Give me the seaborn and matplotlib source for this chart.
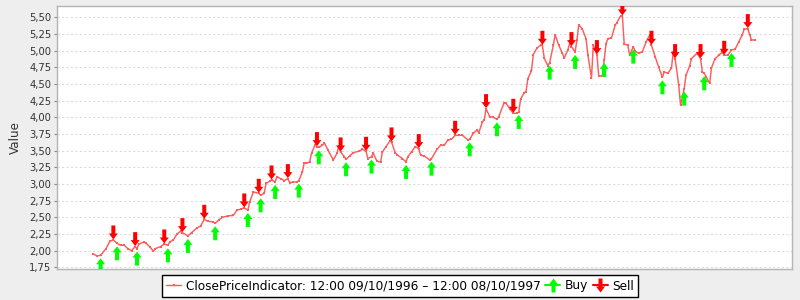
import numpy as np
import pandas as pd
import matplotlib
matplotlib.use("Agg")
import matplotlib.pyplot as plt
import seaborn as sns
from matplotlib.path import Path
from matplotlib.lines import Line2D
from matplotlib.ticker import FuncFormatter

# ---------------- data (calendar-day offset from 09/10/1996, close price) ----------------
days = [0, 2, 4, 7, 9, 11, 13, 15, 17, 19, 21, 23, 24, 25, 28, 29, 31, 33, 34, 37,
        39, 41, 42, 44, 46, 48, 49, 52, 54, 57, 59, 61, 63, 66, 67, 69, 71, 74, 77, 79,
        81, 83, 85, 86, 88, 91, 92, 94, 95, 97, 98, 100, 101, 103, 105, 107, 108, 110, 112, 113,
        115, 116, 117, 119, 120, 122, 123, 124, 126, 127, 129, 132, 134, 135, 136, 138, 139, 141, 143, 146,
        148, 150, 151, 153, 154, 156, 158, 159, 161, 163, 164, 166, 167, 170, 172, 173, 175, 177, 179, 180,
        182, 185, 186, 189, 191, 193, 195, 197, 199, 201, 203, 206, 207, 209, 211, 212, 214, 215, 216, 218,
        220, 222, 223, 226, 227, 229, 231, 233, 234, 235, 237, 238, 239, 241, 242, 244, 246, 247, 248, 250,
        251, 253, 254, 256, 258, 259, 261, 262, 263, 265, 266, 267, 269, 271, 272, 274, 275, 277, 278, 280,
        281, 282, 283, 285, 287, 288, 290, 291, 292, 294, 295, 297, 298, 300, 302, 304, 306, 307, 309, 311,
        313, 314, 316, 318, 319, 320, 322, 323, 325, 326, 328, 329, 332, 334, 335, 336, 337, 339, 340, 342,
        344, 346, 347, 349, 351, 353, 355, 357, 358, 360, 361, 362, 364]
prices = [1.95, 1.92, 1.93, 2.03, 2.14, 2.16, 2.11, 2.08, 2.08, 2.03, 2.00, 2.06, 2.03, 2.10, 2.13, 2.11, 2.06, 1.99, 2.03, 2.06,
          2.10, 2.08, 2.13, 2.16, 2.25, 2.29, 2.27, 2.22, 2.27, 2.34, 2.37, 2.47, 2.44, 2.43, 2.41, 2.46, 2.50, 2.52, 2.53, 2.61,
          2.62, 2.64, 2.61, 2.73, 2.88, 2.86, 2.83, 2.86, 3.01, 3.04, 3.06, 3.03, 3.11, 3.08, 3.05, 3.08, 3.02, 3.03, 3.03, 3.05,
          3.18, 3.32, 3.31, 3.33, 3.46, 3.59, 3.56, 3.55, 3.58, 3.62, 3.51, 3.36, 3.46, 3.57, 3.48, 3.41, 3.37, 3.42, 3.47, 3.49,
          3.52, 3.49, 3.38, 3.41, 3.46, 3.34, 3.33, 3.48, 3.56, 3.64, 3.63, 3.47, 3.44, 3.38, 3.33, 3.41, 3.48, 3.56, 3.53, 3.43,
          3.42, 3.36, 3.38, 3.52, 3.58, 3.58, 3.66, 3.67, 3.73, 3.73, 3.73, 3.66, 3.67, 3.76, 3.81, 3.77, 3.93, 3.96, 4.13, 4.01,
          4.00, 3.97, 4.01, 4.22, 4.21, 4.13, 4.06, 4.06, 4.08, 4.27, 4.37, 4.38, 4.58, 4.70, 4.94, 5.04, 5.08, 5.08, 4.89, 4.77,
          4.82, 5.08, 5.24, 5.08, 4.96, 4.89, 5.01, 5.11, 5.06, 4.98, 5.16, 5.39, 5.32, 5.18, 4.94, 4.59, 5.08, 4.94, 4.62, 4.62,
          4.86, 5.10, 5.18, 5.19, 5.38, 5.42, 5.52, 5.52, 5.10, 5.08, 4.93, 5.06, 4.99, 4.96, 4.98, 5.13, 5.23, 5.08, 4.91, 4.75,
          4.60, 4.68, 4.66, 4.74, 4.98, 4.88, 4.48, 4.18, 4.43, 4.63, 4.77, 4.88, 4.96, 4.88, 4.68, 4.66, 4.61, 4.51, 4.74, 4.88,
          4.93, 4.98, 4.93, 4.93, 5.01, 5.02, 5.13, 5.24, 5.32, 5.33, 5.24, 5.16, 5.16]
buy_days = [4, 13, 24, 41, 52, 67, 85, 92, 100, 113, 124, 139, 153, 172, 186, 207, 222, 234,
            251, 265, 281, 297, 313, 325, 336, 351]
sell_days = [11, 23, 39, 49, 61, 83, 91, 98, 107, 123, 136, 150, 164, 179, 199, 216, 231, 247,
             263, 277, 291, 307, 320, 334, 347, 360]
y_ticks = [1.75, 2.00, 2.25, 2.50, 2.75, 3.00, 3.25, 3.50, 3.75, 4.00, 4.25, 4.50, 4.75, 5.00, 5.25, 5.50]
series_label = "ClosePriceIndicator: 12:00 09/10/1996 \u2013 12:00 08/10/1997"
signal_labels = ["Buy", "Sell"]

# ---------------- style ----------------
sns.set_theme(style="white")
plt.rcParams["font.family"] = ["DejaVu Sans"]

LINE_C = "#ff5c5c"
BUY_C = "#00ff00"
SELL_C = "#ff0000"
PX2PT = 0.72  # 1 px at dpi 100

df = pd.DataFrame({"day": days, "price": prices})
buy_df = pd.DataFrame({"day": buy_days, "price": np.interp(buy_days, days, prices)})
sell_df = pd.DataFrame({"day": sell_days, "price": np.interp(sell_days, days, prices)})


def arrow_path(up=True, gap=0.0, length=14.0, head_h=6.0, head_w=4.5, shaft_w=2.0, centered=False):
    if centered:
        t = length / 2.0
        verts = [(0, t), (head_w, t - head_h), (shaft_w, t - head_h), (shaft_w, -t),
                 (-shaft_w, -t), (-shaft_w, t - head_h), (-head_w, t - head_h), (0, t)]
    else:
        t = -gap
        b = -gap - length
        verts = [(0, t), (head_w, t - head_h), (shaft_w, t - head_h), (shaft_w, b),
                 (-shaft_w, b), (-shaft_w, t - head_h), (-head_w, t - head_h), (0, t)]
    if not up:
        verts = [(x, -y) for x, y in verts]
    codes = [Path.MOVETO] + [Path.LINETO] * 6 + [Path.CLOSEPOLY]
    extent = max(max(abs(x), abs(y)) for x, y in verts)
    return Path(verts, codes), 2 * extent * PX2PT


fig = plt.figure(figsize=(8, 3), dpi=100, facecolor="#eeeeee")
ax = fig.add_axes([57 / 800, 31 / 300, 735 / 800, 263 / 300])
ax.set_facecolor("white")

sns.lineplot(data=df, x="day", y="price", ax=ax, color=LINE_C, lw=1.05,
             marker="s", markersize=2.0, markeredgewidth=0, estimator=None, sort=False,
             zorder=3)

buy_path, buy_ms = arrow_path(up=True, gap=3.0)
sell_path, sell_ms = arrow_path(up=False, gap=0.5)
sns.scatterplot(data=buy_df, x="day", y="price", ax=ax, marker=buy_path, s=buy_ms ** 2,
                color=BUY_C, edgecolor="none", linewidth=0, zorder=4)
sns.scatterplot(data=sell_df, x="day", y="price", ax=ax, marker=sell_path, s=sell_ms ** 2,
                color=SELL_C, edgecolor="none", linewidth=0, zorder=4)

ax.set_xlim(-20, 384.3)
ax.set_ylim(1.7245, 5.669)
ax.set_yticks(y_ticks)
ax.yaxis.set_major_formatter(FuncFormatter(lambda v, p: f"{v:.2f}".replace(".", ",")))
ax.tick_params(axis="y", left=True, length=2, width=0.8, color="#888888",
               labelsize=7.2, labelcolor="#333333", pad=2)
ax.tick_params(axis="x", bottom=False, labelbottom=False)
ax.set_xlabel("")
ax.set_ylabel("Value", fontsize=8.6, color="#333333", labelpad=5)
ax.yaxis.grid(True, color="#dcdcdc", linestyle=(0, (2, 2)), lw=0.8)
ax.xaxis.grid(False)
for sp in ax.spines.values():
    sp.set_color("#b4b4b4")
    sp.set_linewidth(1.0)

# legend
leg_buy_path, leg_buy_ms = arrow_path(up=True, centered=True)
leg_sell_path, leg_sell_ms = arrow_path(up=False, centered=True)
h_line = Line2D([0], [0], color=LINE_C, lw=1.05, marker="s", markersize=2.0, markeredgewidth=0)
h_buy = Line2D([0], [0], color=BUY_C, lw=1.5, marker=leg_buy_path, markersize=leg_buy_ms,
               markeredgewidth=0, markerfacecolor=BUY_C)
h_sell = Line2D([0], [0], color=SELL_C, lw=1.5, marker=leg_sell_path, markersize=leg_sell_ms,
                markeredgewidth=0, markerfacecolor=SELL_C)
leg = fig.legend(handles=[h_line, h_buy, h_sell], labels=[series_label] + signal_labels,
                 loc="center", bbox_to_anchor=(0.5, 1 - 286 / 300), ncol=3,
                 frameon=True, fancybox=False, edgecolor="black", facecolor="white",
                 framealpha=1, fontsize=8.7, handlelength=1.25, handletextpad=0.35,
                 columnspacing=0.4, borderpad=0.35, borderaxespad=0)
leg.get_frame().set_linewidth(1.0)
for t in leg.get_texts():
    t.set_color("black")

fig.savefig("out.png", dpi=100, facecolor=fig.get_facecolor())
